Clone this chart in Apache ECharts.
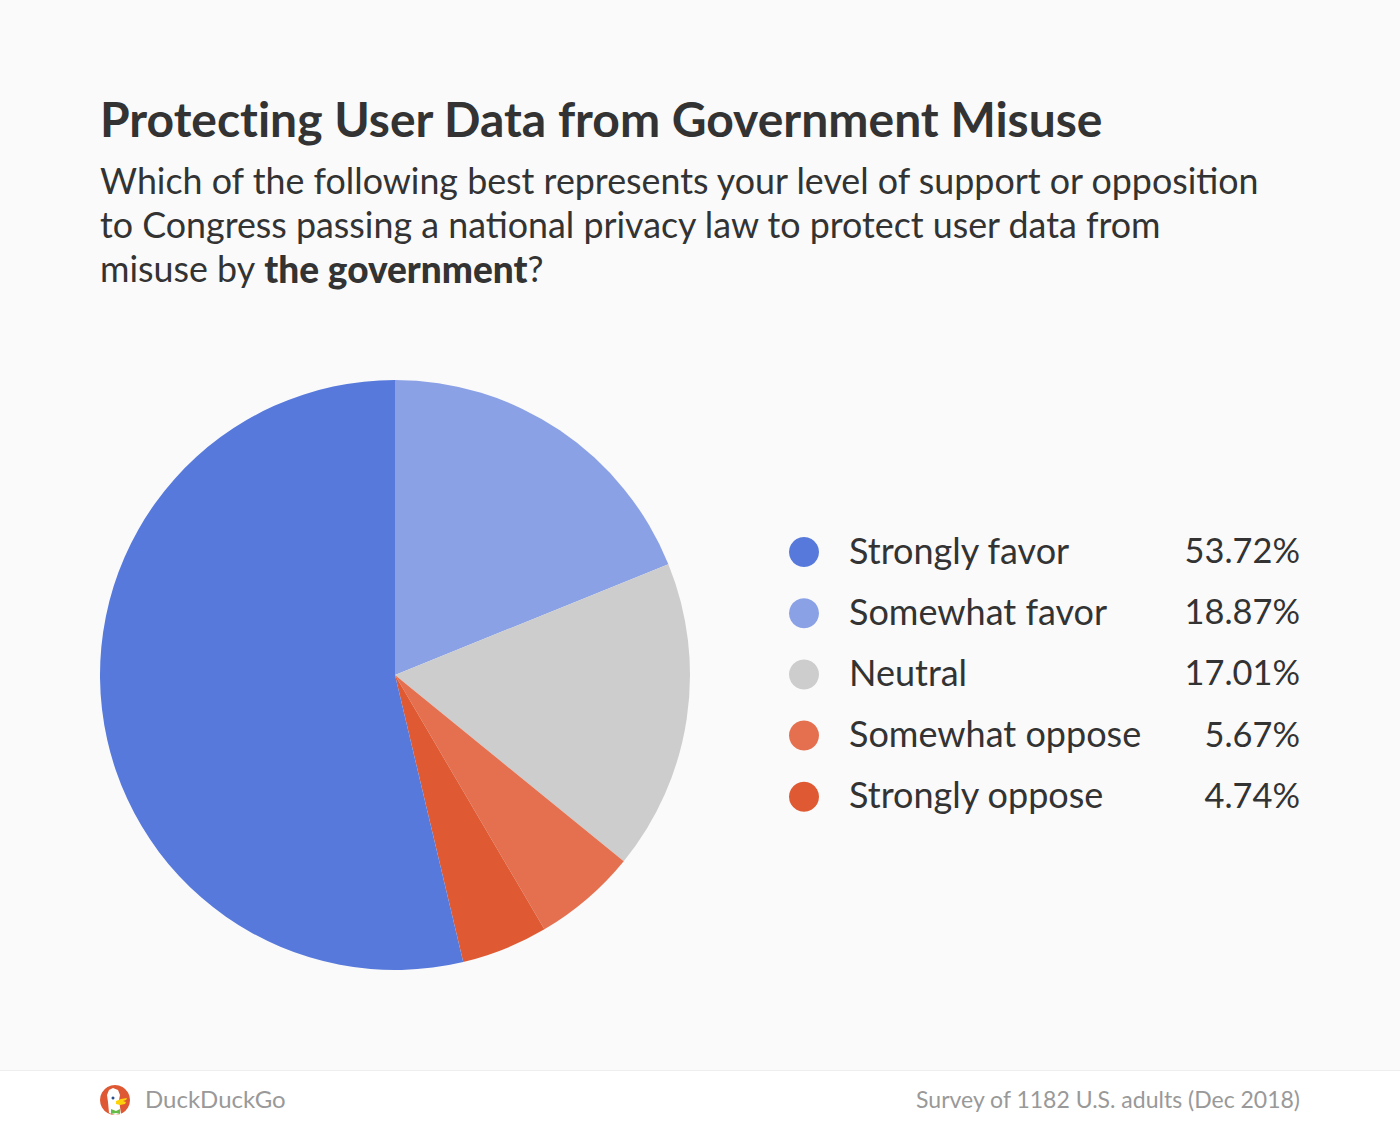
<!DOCTYPE html>
<html><head><meta charset="utf-8">
<style>html,body{margin:0;padding:0;background:#fafafa}#c{width:1400px;height:1130px}text{font-variant-ligatures:none}</style>
<script src="https://cdn.jsdelivr.net/npm/echarts@6/dist/echarts.min.js"></script>
</head><body><div id="c"></div>
<script>
const categories = ['Strongly favor','Somewhat favor','Neutral','Somewhat oppose','Strongly oppose'];
const values = [53.72,18.87,17.01,5.67,4.74];
const colors = ['#5679DB','#8AA1E6','#CDCDCD','#E57050','#DF5A33'];
const drawOrder = [1,2,3,4,0];
const FONT = 'Lato';
const chart = echarts.init(document.getElementById('c'), null, {renderer:'svg'});
chart.setOption({
  animation:false,
  backgroundColor:'#fafafa',
  title:[{
    text:'Protecting User Data from Government Misuse',
    left:100, top:90,padding:0,
    textStyle:{fontFamily:FONT,fontSize:48,fontWeight:700,color:'#333333',lineHeight:56}
  },{
    text:'Which of the following best represents your level of support or opposition\nto Congress passing a national privacy law to protect user data from\nmisuse by {b|the government}?',
    left:100, top:159,padding:0,
    textStyle:{fontFamily:FONT,fontSize:35.8,fontWeight:400,color:'#333333',lineHeight:43.7,
      rich:{b:{fontFamily:FONT,fontSize:37,fontWeight:900,color:'#333333',lineHeight:43.7}}}
  }],
  legend:{
    orient:'vertical', left:789, top:531.5, padding:0,
    itemWidth:30,itemHeight:30,itemGap:25.2,icon:'circle',
    selectedMode:false,
    data:categories,
    formatter:n=>`{n|${n}}{v|${values[categories.indexOf(n)].toFixed(2)}%}`,
    textStyle:{color:'#333333',fontFamily:FONT,fontSize:36,
      rich:{
        n:{width:326,padding:[0,0,5,25],fontFamily:FONT,fontSize:36,color:'#333333',align:'left'},
        v:{width:125,padding:[0,0,5,0],fontFamily:FONT,fontSize:34.4,color:'#333333',align:'right'}
      }}
  },
  series:[{
    type:'pie',center:[395,675],radius:[0,295],startAngle:90,clockwise:true,
    label:{show:false},labelLine:{show:false},silent:true,
    emphasis:{disabled:true},
    itemStyle:{borderWidth:0},
    data:drawOrder.map(i=>({name:categories[i],value:values[i],itemStyle:{color:colors[i]}}))
  }],
  graphic:[
    {type:'rect',silent:true,shape:{x:0,y:1071,width:1400,height:59},style:{fill:'#ffffff'}},
    {type:'rect',silent:true,shape:{x:0,y:1070,width:1400,height:1},style:{fill:'#eeeeee'}},
    {type:'circle',shape:{cx:115,cy:1100,r:15},style:{fill:'#DE5833'}},
    {type:'polygon',shape:{points:[[109,1113],[108,1102],[107,1095],[109,1090],[113,1088],[118,1090],[120,1095],[119,1100],[120,1107],[121,1114],[115,1115]]},style:{fill:'#ffffff'}},
    {type:'circle',shape:{cx:113,cy:1098,r:1.5},style:{fill:'#2D4F8E'}},
    {type:'polygon',shape:{points:[[116,1101],[121,1099],[127,1098],[126,1100],[123,1101],[126,1102],[125,1104],[120,1105],[116,1104]]},style:{fill:'#FDD20A'}},
    {type:'polygon',shape:{points:[[111,1109],[116,1111],[120,1109],[120,1114],[116,1113],[111,1114]]},style:{fill:'#65BC46'}},
    {type:'text',x:145,y:1086,style:{text:'DuckDuckGo',fontFamily:FONT,fontSize:24,fill:'#999999'}},
    {type:'text',x:1300,y:1087,style:{text:'Survey of 1182 U.S. adults (Dec 2018)',fontFamily:FONT,fontSize:23,fill:'#999999',align:'right'}}
  ]
});
</script></body></html>
